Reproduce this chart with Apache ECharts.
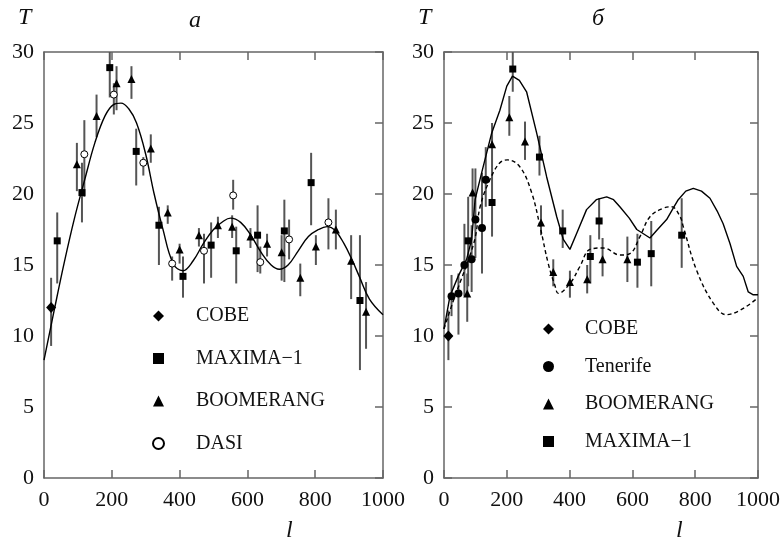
<!DOCTYPE html>
<html>
<head>
<meta charset="utf-8">
<script src="https://cdn.jsdelivr.net/npm/echarts@6/dist/echarts.min.js"></script>
<style>
  html, body { margin: 0; padding: 0; background: #fff; }
  #chart { width: 784px; height: 548px; }
</style>
</head>
<body>
<div id="chart"></div>
<script>
// each point: [l, T, lower end of error bar, upper end of error bar]
// panel a
const aCobe = [[21, 12.0, 9.3, 14.1]];
const aMaxima = [
  [39, 16.7, 13.7, 18.7], [112, 20.1, 18.0, 22.2], [194, 28.9, 26.8, 30],
  [272, 23.0, 20.6, 24.6], [339, 17.8, 15.0, 19.1], [410, 14.2, 12.7, 15.6],
  [493, 16.4, 14.1, 18.0], [567, 16.0, 13.7, 17.7], [630, 17.1, 14.5, 19.2],
  [709, 17.4, 13.8, 19.6], [788, 20.8, 17.8, 22.9], [932, 12.5, 7.6, 17.1]
];
const aBoomerang = [
  [97, 22.1, 20.2, 23.6], [155, 25.5, 24.0, 27.0], [214, 27.8, 25.9, 29.0],
  [258, 28.1, 26.7, 29.0], [315, 23.2, 22.2, 24.2], [365, 18.7, 17.9, 19.2],
  [400, 16.1, 15.1, 16.5], [457, 17.1, 16.3, 17.6], [513, 17.8, 16.9, 18.4],
  [555, 17.7, 16.9, 18.5], [609, 17.0, 16.2, 17.6], [658, 16.5, 15.6, 17.2],
  [701, 15.9, 13.9, 17.1], [756, 14.1, 12.8, 15.1], [802, 16.3, 15.0, 17.1],
  [861, 17.5, 16.1, 18.9], [906, 15.3, 12.6, 17.1], [950, 11.7, 9.1, 13.8]
];
const aDasi = [
  [119, 22.8, 19.8, 25.2], [206, 27.0, 25.6, 27.8], [293, 22.2, 21.3, 22.6],
  [378, 15.1, 13.9, 15.6], [472, 16.0, 13.7, 17.2], [558, 19.9, 18.9, 21.0],
  [638, 15.2, 14.4, 16.3], [723, 16.8, 15.4, 18.2], [839, 18.0, 16.1, 19.7]
];
const aCurve = [
  [0, 8.3], [30, 11.8], [60, 15.2], [90, 18.3], [120, 21.0], [150, 23.6],
  [180, 25.5], [205, 26.3], [227, 26.4], [250, 26.0], [273, 25.0], [300, 22.8],
  [325, 20.0], [350, 17.6], [381, 15.1], [410, 14.6], [440, 15.3], [470, 16.5],
  [500, 17.5], [530, 18.1], [550, 18.3], [580, 18.0], [610, 17.1], [640, 15.9],
  [670, 15.0], [694, 14.7], [720, 15.0], [750, 16.0], [780, 17.0], [810, 17.5],
  [835, 17.7], [860, 17.4], [885, 16.5], [908, 15.4], [930, 14.2], [960, 12.6],
  [1000, 11.5]
];

// panel б
const bCobe = [[14, 10.0, 8.3, 11.8]];
const bTenerife = [
  [24, 12.8, 11.4, 14.3], [46, 13.0, 10.1, 14.4], [65, 15.0, 12.8, 17.9],
  [88, 15.4, 13.1, 17.8], [100, 18.2, 15.5, 21.8], [121, 17.6, 14.4, 21.5],
  [133, 21.0, 19.1, 23.3]
];
const bBoomerang = [
  [74, 13.0, 11.0, 14.4], [91, 20.1, 18.4, 21.8], [153, 23.5, 21.9, 25.0],
  [208, 25.4, 24.1, 26.9], [258, 23.7, 22.4, 25.1], [309, 18.0, 17.1, 19.2],
  [348, 14.5, 13.5, 15.4], [401, 13.8, 12.7, 14.6], [456, 14.0, 13.0, 15.0],
  [505, 15.4, 14.2, 16.9], [584, 15.4, 13.8, 17.0]
];
const bMaxima = [
  [77, 16.7, 13.5, 19.8], [153, 19.4, 17.0, 21.9], [219, 28.8, 27.2, 30],
  [304, 22.6, 21.3, 24.1], [378, 17.4, 16.2, 18.9], [466, 15.6, 13.7, 17.1],
  [494, 18.1, 16.8, 19.7], [616, 15.2, 13.4, 17.2], [660, 15.8, 13.5, 18.1],
  [757, 17.1, 14.8, 19.7]
];
const bSolid = [
  [0, 10.5], [19, 12.8], [45, 14.2], [72, 15.4], [88, 16.8], [99, 19.6],
  [120, 21.5], [152, 24.3], [178, 25.9], [200, 27.6], [218, 28.3], [240, 28.0],
  [263, 27.2], [295, 24.3], [327, 21.2], [359, 18.4], [380, 16.8], [401, 16.1],
  [422, 17.2], [454, 18.9], [485, 19.6], [518, 19.8], [540, 19.6], [560, 19.1],
  [590, 18.3], [614, 17.5], [635, 17.2], [656, 16.9], [680, 17.5], [709, 18.2],
  [730, 19.0], [746, 19.6], [770, 20.2], [794, 20.4], [820, 20.2], [847, 19.7],
  [870, 18.8], [889, 17.9], [911, 16.5], [932, 14.9], [953, 14.2], [969, 13.1],
  [985, 12.9], [1000, 12.9]
];
const bDashed = [
  [0, 10.5], [30, 12.5], [55, 14.0], [80, 15.5], [100, 17.0], [115, 19.1],
  [146, 21.0], [178, 22.2], [202, 22.4], [242, 21.9], [279, 20.1], [306, 17.7],
  [332, 15.1], [354, 13.5], [364, 13.0], [401, 13.7], [433, 14.9], [465, 16.1],
  [507, 16.2], [561, 15.7], [592, 15.8], [624, 17.0], [656, 18.4], [698, 19.0],
  [725, 19.1], [752, 18.4], [762, 17.7], [805, 14.6], [858, 12.3], [900, 11.5],
  [1000, 12.7]
];

const serif = "Liberation Serif";
const frame = "#666";

function xAxes(gi, side) {
  return {
    gridIndex: gi, type: "value", min: 0, max: 1000, interval: 200, position: side,
    axisLine: { show: true, onZero: false, lineStyle: { color: frame, width: 1.5 } },
    axisTick: { show: true, inside: true, length: 8, lineStyle: { color: frame, width: 1.5 } },
    axisLabel: {
      show: side === "bottom", fontFamily: serif, fontSize: 22, color: "#111", margin: 11,
      formatter: v => String(v)
    },
    splitLine: { show: false }
  };
}
function yAxes(gi, side, ticks) {
  return {
    gridIndex: gi, type: "value", min: 0, max: 30, interval: 5, position: side,
    axisLine: { show: true, onZero: false, lineStyle: { color: frame, width: 1.5 } },
    axisTick: { show: ticks, inside: true, length: 8, lineStyle: { color: frame, width: 1.5 } },
    axisLabel: { show: side === "left", fontFamily: serif, fontSize: 22, color: "#111", margin: 10 },
    splitLine: { show: false }
  };
}

function errBars(data, ax) {
  return {
    type: "custom", xAxisIndex: ax, yAxisIndex: ax, silent: true, z: 1,
    encode: { x: 0, y: 1 },
    renderItem(params, api) {
      const p1 = api.coord([api.value(0), api.value(2)]);
      const p2 = api.coord([api.value(0), api.value(3)]);
      return {
        type: "line",
        shape: { x1: p1[0], y1: p1[1], x2: p2[0], y2: p2[1] },
        style: { stroke: "#555", lineWidth: 2 }
      };
    },
    data: data
  };
}
function points(name, data, ax, symbol, size, empty) {
  return {
    name: name, type: "scatter", xAxisIndex: ax, yAxisIndex: ax, z: 3,
    symbol: symbol, symbolSize: size,
    itemStyle: empty
      ? { color: "#fff", borderColor: "#000", borderWidth: 1, opacity: 1 }
      : { color: "#000", opacity: 1 },
    data: data.map(d => [d[0], d[1]])
  };
}
function curve(data, ax, smooth, dashed) {
  return {
    type: "line", xAxisIndex: ax, yAxisIndex: ax, z: 2, silent: true,
    smooth: smooth, showSymbol: false,
    lineStyle: { color: "#000", width: 1.4, type: dashed ? [4, 3] : "solid" },
    data: data
  };
}

const chart = echarts.init(document.getElementById("chart"));
chart.setOption({
  animation: false,
  backgroundColor: "#fff",
  grid: [
    { left: 44, top: 52, width: 339, height: 426 },
    { left: 444, top: 52, width: 314, height: 426 }
  ],
  // 0,2 bottom axes (with labels); 1,3 top/right frame axes
  xAxis: [xAxes(0, "bottom"), xAxes(0, "top"), xAxes(1, "bottom"), xAxes(1, "top")],
  yAxis: [yAxes(0, "left", false), yAxes(0, "right", true), yAxes(1, "left", true), yAxes(1, "right", true)],
  legend: [
    {
      orient: "vertical", left: 147, top: 300, itemGap: 20.5, itemWidth: 11, itemHeight: 11,
      selectedMode: false,
      textStyle: { fontFamily: serif, fontSize: 20, color: "#111", lineHeight: 22, padding: [0, 0, 0, 27] },
      data: ["COBE", "MAXIMA−1", "BOOMERANG", "DASI"]
    },
    {
      orient: "vertical", left: 538, top: 313, itemGap: 15.5, itemWidth: 11, itemHeight: 11,
      selectedMode: false,
      textStyle: { fontFamily: serif, fontSize: 20, color: "#111", lineHeight: 22, padding: [0, 0, 0, 26] },
      data: ["COBE", "Tenerife", "BOOMERANG", "MAXIMA−1"]
    }
  ],
  graphic: [
    { type: "text", left: 18, top: 6, style: { text: "T", font: "italic 24px " + serif, fill: "#111" } },
    { type: "text", left: 418, top: 6, style: { text: "T", font: "italic 24px " + serif, fill: "#111" } },
    { type: "text", left: 189, top: 9, style: { text: "a", font: "italic 24px " + serif, fill: "#111" } },
    { type: "text", left: 592, top: 7, style: { text: "б", font: "italic 24px " + serif, fill: "#111" } },
    { type: "text", left: 286, top: 519, style: { text: "l", font: "italic 24px " + serif, fill: "#111" } },
    { type: "text", left: 676, top: 519, style: { text: "l", font: "italic 24px " + serif, fill: "#111" } }
  ],
  series: [
    curve(aCurve, 0, 0.4, false),
    errBars(aCobe, 0), errBars(aMaxima, 0), errBars(aBoomerang, 0), errBars(aDasi, 0),
    points("COBE", aCobe, 0, "diamond", [10, 11]),
    points("MAXIMA−1", aMaxima, 0, "rect", 7),
    points("BOOMERANG", aBoomerang, 0, "triangle", 8),
    points("DASI", aDasi, 0, "circle", 7, true),

    curve(bSolid, 2, false, false),
    curve(bDashed, 2, 0.4, true),
    errBars(bCobe, 2), errBars(bTenerife, 2), errBars(bBoomerang, 2), errBars(bMaxima, 2),
    points("COBE", bCobe, 2, "diamond", [10, 11]),
    points("Tenerife", bTenerife, 2, "circle", 8),
    points("BOOMERANG", bBoomerang, 2, "triangle", 8),
    points("MAXIMA−1", bMaxima, 2, "rect", 7)
  ]
});
</script>
</body>
</html>
